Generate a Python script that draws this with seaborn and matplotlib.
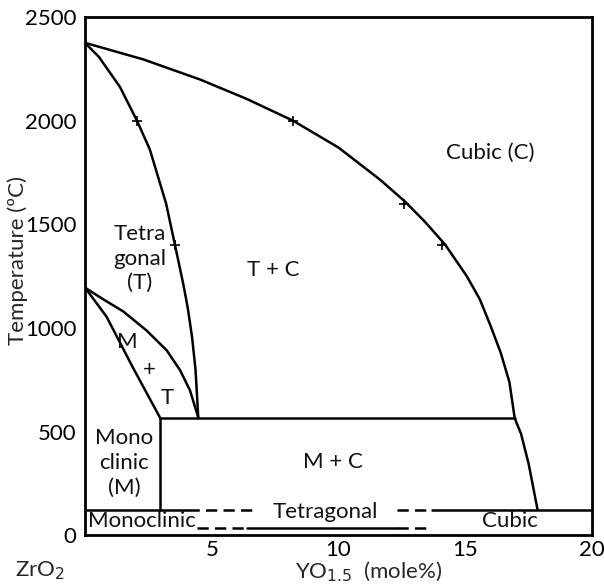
import matplotlib
matplotlib.use("Agg")
import matplotlib.pyplot as plt
import seaborn as sns
import pandas as pd

# Phase boundaries of the ZrO2 - YO1.5 system (x: mole% YO1.5, T: degC)
cubic_x = [0.0, 2.3, 4.54, 6.37, 8.2, 10.0, 11.64, 12.62, 13.41, 14.2, 15.06, 15.58,
           16.0, 16.4, 16.74, 16.95, 17.2, 17.5, 17.85]
cubic_t = [2375, 2295, 2198, 2105, 2000, 1870, 1715, 1610, 1512, 1403, 1250, 1137,
           1010, 880, 740, 565, 490, 345, 125]

tetra_x = [0.0, 0.55, 1.38, 2.05, 2.56, 3.2, 3.55, 3.88, 4.05, 4.22, 4.36, 4.47]
tetra_t = [2375, 2307, 2162, 2000, 1860, 1600, 1400, 1210, 1100, 960, 800, 565]

mono_lo_x = [0.0, 0.85, 1.91, 2.96]
mono_lo_t = [1195, 1055, 805, 568]

mono_hi_x = [0.0, 0.7, 1.51, 2.43, 3.22, 3.75, 4.14, 4.47]
mono_hi_t = [1195, 1140, 1080, 988, 893, 797, 700, 568]

eutectoid_x = [2.96, 16.95]
eutectoid_t = [565, 565]

mono_edge_x = [2.96, 2.96]
mono_edge_t = [125, 565]

# Measured points marked on the boundaries
pts_x = [2.05, 3.55, 8.2, 12.6, 14.1]
pts_t = [2000, 1400, 2000, 1600, 1400]

# Low-temperature strip: solid and dashed boundary segments
strip_solid = [([0.0, 4.06], [125, 125]), ([13.7, 20.0], [125, 125]), ([6.4, 12.3], [35, 35])]
strip_dashed = [([4.06, 6.6], [125, 125]), ([12.3, 13.7], [125, 125]),
                ([4.4, 6.4], [35, 35]), ([12.3, 13.7], [35, 35])]

region_labels = [
    ("Tetra\ngonal\n(T)", 2.17, 1335),
    ("T + C", 7.42, 1280),
    ("Cubic (C)", 15.98, 1845),
    ("M", 1.66, 933),
    ("+", 2.52, 797),
    ("T", 3.23, 662),
    ("Mono\nclinic\n(M)", 1.54, 349),
    ("M + C", 9.78, 353),
    ("Tetragonal", 9.47, 115),
    ("Cubic", 16.77, 70),
]

sns.set_theme(style="white")
plt.rcParams['font.family'] = ['Lato', 'DejaVu Sans']

fig = plt.figure(figsize=(6.04, 5.86), dpi=100)
ax = fig.add_axes([0.1407, 0.0862, 0.8395, 0.885])

lw = 1.8
def boundary(xs, ts, **kw):
    df = pd.DataFrame({"x": xs, "T": ts})
    sns.lineplot(data=df, x="x", y="T", sort=False, estimator=None,
                 color="black", linewidth=kw.pop("lw", lw), ax=ax, **kw)

boundary(cubic_x, cubic_t)
boundary(tetra_x, tetra_t)
boundary(mono_lo_x, mono_lo_t)
boundary(mono_hi_x, mono_hi_t)
boundary(eutectoid_x, eutectoid_t)
boundary(mono_edge_x, mono_edge_t)
for xs, ts in strip_solid:
    boundary(xs, ts)
for xs, ts in strip_dashed:
    boundary(xs, ts, linestyle=(0, (4.5, 2.5)))

sns.scatterplot(x=pts_x, y=pts_t, marker="+", s=55, color="black",
                linewidth=1.2, ax=ax, zorder=5)

for text, x, t in region_labels:
    ax.text(x, t, text, ha="center", va="center", fontsize=16,
            linespacing=1.3, color="#111111")

ax.text(0.12, 70, "Monoclinic", ha="left", va="center", fontsize=16, color="#111111")

ax.set_xlim(0, 20)
ax.set_ylim(0, 2500)
ax.set_xticks([5, 10, 15, 20])
ax.set_yticks([0, 500, 1000, 1500, 2000, 2500])
ax.tick_params(axis="both", labelsize=16, direction="out", length=4, width=1.2,
               colors="black", pad=2)
ax.tick_params(axis="x", length=0, pad=3)
for s in ax.spines.values():
    s.set_color("black")
    s.set_linewidth(2)

ax.set_xlabel("YO$_{1.5}$  (mole%)", fontsize=16, labelpad=0, x=0.56)
ax.set_ylabel("Temperature (ºC)", fontsize=16)
ax.yaxis.set_label_coords(-0.112, 0.53)
ax.text(-0.089, -0.068, "ZrO$_2$", transform=ax.transAxes, ha="center",
        va="center", fontsize=16)

fig.savefig("out.png", dpi=100)
